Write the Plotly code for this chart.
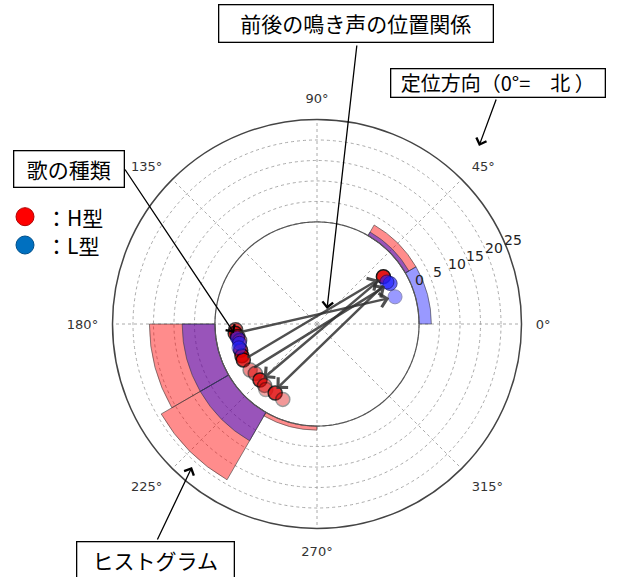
import numpy as np
import plotly.graph_objects as go

# ---------------- data ----------------
# histogram of song directions, 30-degree bins
bin_centers = [15, 45, 75, 105, 135, 165, 195, 225, 255, 285, 315, 345]
h_counts = [0, 3, 0, 0, 0, 0, 16, 19, 1, 0, 0, 0]   # H-type songs
l_counts = [3, 1, 0, 0, 0, 0, 8, 8, 0, 0, 0, 0]     # L-type songs

# individual songs (direction in degrees, plotted radius inside the ring)
h_theta = [184, 186.5, 189, 192, 199, 203, 206, 214.5, 218.7, 224.5, 229.5, 232, 238.8, 245.6, 35.5]
h_r = [-5.0, -4.8, -5.3, -5.6, -5.2, -5.0, -4.9, -5.1, -5.6, -5.4, -5.2, -4.6, -5.2, -4.7, -5.0]
l_theta = [190, 194, 197, 29, 31, 19.2]
l_r = [-5.2, -5.4, -5.0, -4.5, -5.0, -4.74]

# successive songs (from -> to)
arrow_from_theta = [186.5, 206, 214.5, 35.5, 31]
arrow_from_r = [-4.8, -4.9, -5.1, -5.0, -5.0]
arrow_to_theta = [19.2, 35.5, 29, 225, 237]
arrow_to_r = [-4.74, -5.0, -4.5, -4.9, -4.8]

radial_ticks = [0, 5, 10, 15, 20, 25]
radial_labels = ["0", "5", "10", "15", "20", "25"]
angle_ticks = [0, 45, 90, 135, 180, 225, 270, 315]
angle_labels = ["0°", "45°", "90°", "135°", "180°", "225°", "270°", "315°"]

# ---------------- styles ----------------
h_opacity = [0.7, 0.8, 0.7, 0.6, 0.8, 0.8, 0.8, 0.45, 0.5, 0.8, 0.5, 0.35, 0.8, 0.4, 0.9]
l_opacity = [0.6, 0.6, 0.5, 0.7, 0.6, 0.45]

W, H = 617, 577
CX, CY, RPX = 317, 324, 204.5
R_MIN, R_MAX = -24.9, 25.0
SPAN = R_MAX - R_MIN
dom_x = [(CX - RPX) / W, (CX + RPX) / W]
dom_y = [1 - (CY + RPX) / H, 1 - (CY - RPX) / H]
JP = "Noto Sans CJK JP"
LABEL_ANGLE = 23.3
LABEL_PAD = 2.2

fig = go.Figure()

# inner reference circle (r = 0)
circ = np.linspace(0, 360, 361)
fig.add_trace(go.Scatterpolar(theta=circ, r=np.zeros_like(circ), mode="lines",
                              line=dict(color="#555555", width=1.2),
                              hoverinfo="skip", showlegend=False))

# histogram bars
def nz(vals, counts):
    return [v for v, c in zip(vals, counts) if c > 0]

fig.add_trace(go.Barpolar(theta=nz(bin_centers, h_counts), r=nz(h_counts, h_counts), base=0,
                          width=30, marker=dict(color="rgba(255,0,0,0.45)",
                                                line=dict(color="rgba(60,60,60,0.6)", width=1)),
                          showlegend=False))
fig.add_trace(go.Barpolar(theta=nz(bin_centers, l_counts), r=nz(l_counts, l_counts), base=0,
                          width=30, marker=dict(color="rgba(0,0,255,0.4)",
                                                line=dict(color="rgba(60,60,60,0.6)", width=1)),
                          showlegend=False))

# songs
fig.add_trace(go.Scatterpolar(theta=h_theta, r=h_r, mode="markers",
                              marker=dict(size=14, color="#e00000", opacity=h_opacity,
                                          line=dict(color="black", width=1.5)),
                              showlegend=False))
fig.add_trace(go.Scatterpolar(theta=l_theta, r=l_r, mode="markers",
                              marker=dict(size=14, color="#2020ff", opacity=l_opacity,
                                          line=dict(color="#000060", width=1)),
                              showlegend=False))

# invisible cartesian overlay (same centre/scale as the polar plot) for arrows and ring labels
fig.add_trace(go.Scatter(x=[None], y=[None], xaxis="x", yaxis="y", showlegend=False, hoverinfo="skip"))

def to_xy(theta, r):
    rho = np.asarray(r, dtype=float) - R_MIN
    t = np.deg2rad(theta)
    return rho * np.cos(t), rho * np.sin(t)

annotations = []

# radial tick labels, matplotlib-style, just outside each ring
lx, ly = to_xy([LABEL_ANGLE] * len(radial_ticks), [t + LABEL_PAD for t in radial_ticks])
for x, y, s in zip(lx, ly, radial_labels):
    annotations.append(dict(x=x, y=y, xref="x", yref="y", text=s, showarrow=False,
                            xanchor="center", yanchor="middle",
                            font=dict(family="DejaVu Sans", size=14, color="#222")))

fx, fy = to_xy(arrow_from_theta, arrow_from_r)
tx, ty = to_xy(arrow_to_theta, arrow_to_r)
for x0, y0, x1, y1 in zip(fx, fy, tx, ty):
    annotations.append(dict(x=x1, y=y1, ax=x0, ay=y0, xref="x", yref="y", axref="x", ayref="y",
                            text="", showarrow=True, arrowhead=4, arrowsize=1.1, arrowwidth=2.5,
                            arrowcolor="rgba(50,50,50,0.85)", standoff=6, startstandoff=3))

def box(text, cx, cy, w, h, size):
    return dict(x=cx / W, y=1 - cy / H, xref="paper", yref="paper", text=text, showarrow=False,
                xanchor="center", yanchor="middle", width=w - 2, height=h - 2,
                bordercolor="black", borderwidth=1.3, borderpad=0, bgcolor="white",
                font=dict(family=JP, size=size, color="black"))

annotations += [
    box("前後の鳴き声の位置関係", 355.5, 24, 275, 38, 21),
    box("定位方向（0°=　北 ）", 497.5, 82.5, 215, 29, 20),
    box("歌の種類", 68.5, 168.5, 111, 37, 21),
    box("ヒストグラム", 156, 560, 158, 38, 21),
]

def pointer(tail, head):
    return dict(x=head[0] / W, y=1 - head[1] / H, xref="paper", yref="paper",
                ax=tail[0] - head[0], ay=tail[1] - head[1], axref="pixel", ayref="pixel",
                text="", showarrow=True, arrowhead=4, arrowsize=1.6, arrowwidth=1.3,
                arrowcolor="black")

annotations += [
    pointer((357, 44), (327, 309)),
    pointer((496.7, 98), (479, 146)),
    pointer((124, 168), (234, 333)),
    pointer((156.7, 541), (192, 467)),
]

# legend-like key
annotations += [
    dict(x=44 / W, y=1 - 216.7 / H, xref="paper", yref="paper", text="：H型", showarrow=False,
         xanchor="left", yanchor="middle", font=dict(family=JP, size=21, color="black")),
    dict(x=44 / W, y=1 - 245 / H, xref="paper", yref="paper", text="：L型", showarrow=False,
         xanchor="left", yanchor="middle", font=dict(family=JP, size=21, color="black")),
]
shapes = [
    dict(type="circle", xref="paper", yref="paper", x0=16 / W, x1=34 / W,
         y0=1 - 225.7 / H, y1=1 - 207.7 / H, fillcolor="#FF0000", line=dict(color="#B00000", width=1)),
    dict(type="circle", xref="paper", yref="paper", x0=16 / W, x1=34 / W,
         y0=1 - 254 / H, y1=1 - 236 / H, fillcolor="#0070C0", line=dict(color="#004f8a", width=1)),
]

fig.update_layout(
    width=W, height=H, margin=dict(l=0, r=0, t=0, b=0),
    paper_bgcolor="white", plot_bgcolor="rgba(0,0,0,0)",
    showlegend=False,
    polar=dict(
        domain=dict(x=dom_x, y=dom_y), bgcolor="white",
        radialaxis=dict(range=[R_MIN, R_MAX], tickvals=radial_ticks, angle=24,
                        showticklabels=False, showline=False,
                        ticks="", gridcolor="#aaaaaa", griddash="dot", gridwidth=1),
        angularaxis=dict(rotation=0, direction="counterclockwise", tickvals=angle_ticks,
                         ticktext=angle_labels, showline=True, linecolor="#444", linewidth=1.5,
                         gridcolor="#aaaaaa", griddash="dot", gridwidth=1,
                         ticks="outside", ticklen=11, tickcolor="rgba(0,0,0,0)",
                         tickfont=dict(family="DejaVu Sans", size=13, color="#333")),
    ),
    xaxis=dict(domain=dom_x, range=[-SPAN, SPAN], visible=False, fixedrange=True),
    yaxis=dict(domain=dom_y, range=[-SPAN, SPAN], visible=False, fixedrange=True),
    annotations=annotations, shapes=shapes,
)

fig.write_html("out.html")
